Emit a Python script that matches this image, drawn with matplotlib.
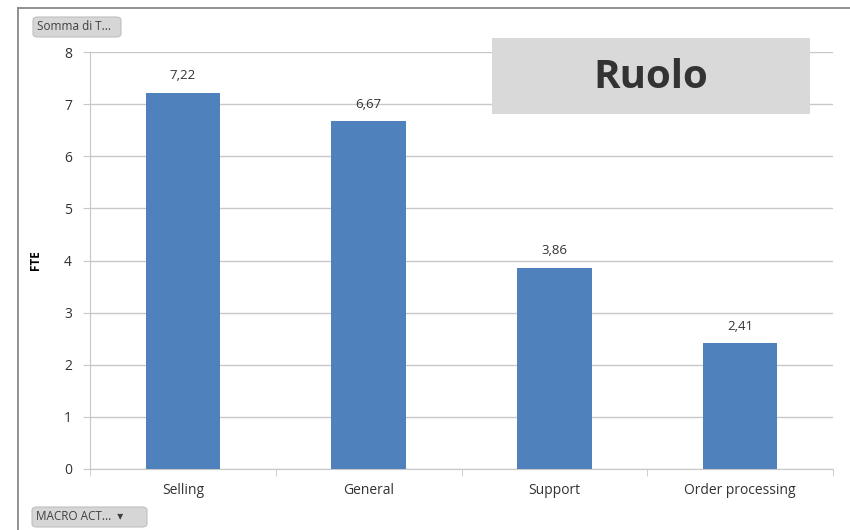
import numpy as np
import matplotlib.pyplot as plt
from matplotlib.patches import FancyBboxPatch, Rectangle
from matplotlib.lines import Line2D

plt.rcParams['font.family'] = ['Open Sans', 'DejaVu Sans']

# data
categories = ['Selling', 'General', 'Support', 'Order processing']
fte = [7.22, 6.67, 3.86, 2.41]
fte_labels = ['7,22', '6,67', '3,86', '2,41']

bar_col = '#4F81BD'
grid_col = '#C8C8C8'
text_col = '#333333'

fig = plt.figure(figsize=(8.5, 5.3), dpi=100)
ax = fig.add_axes([90/850, 1 - 469/530, (833 - 90)/850, (469 - 52)/530])

x = np.arange(len(categories))
ax.bar(x, fte, width=0.4, color=bar_col, zorder=3)
for xi, v, lab in zip(x, fte, fte_labels):
    ax.text(xi, v + 0.2, lab, ha='center', va='bottom', fontsize=9.5, color=text_col)

ax.set_xlim(-0.5, len(categories) - 0.5)
ax.set_ylim(0, 8)
ax.set_yticks(range(0, 9))
ax.yaxis.grid(True, color=grid_col, lw=1, zorder=0)
ax.set_xticks(x)
ax.set_xticklabels(categories, fontsize=10, color=text_col)
ax.set_xticks(np.arange(-0.5, len(categories)), minor=True)
ax.tick_params(axis='x', which='major', length=0, pad=10)
ax.tick_params(axis='x', which='minor', length=5, color=grid_col, direction='out')
ax.tick_params(axis='y', length=5, color=grid_col, labelsize=10, labelcolor=text_col, pad=8)
for s in ['top', 'right']:
    ax.spines[s].set_visible(False)
ax.spines['left'].set_color(grid_col)
ax.spines['bottom'].set_color(grid_col)
ax.set_ylabel('FTE', fontsize=8.5, fontweight='bold', color='black', labelpad=16)

# outer frame lines
fig.add_artist(Line2D([18/850, 18/850], [0, 1 - 8/530], transform=fig.transFigure, color='#888888', lw=1.3))
fig.add_artist(Line2D([18/850, 1], [1 - 8/530, 1 - 8/530], transform=fig.transFigure, color='#888888', lw=1.3))

# title box
fig.add_artist(Rectangle((492/850, 1 - 114/530), (810 - 492)/850, (114 - 38)/530,
                         transform=fig.transFigure, facecolor='#D9D9D9', edgecolor='none', zorder=5))
fig.text(651/850, 1 - 78/530, 'Ruolo', ha='center', va='center', fontsize=29,
         fontweight='bold', color='#333333', zorder=6)

# field buttons
def button(x0, y0, w, h, label):
    fig.add_artist(FancyBboxPatch((x0/850, 1 - (y0 + h)/530), w/850, h/530,
                                  boxstyle='round,pad=0,rounding_size=0.006',
                                  transform=fig.transFigure, facecolor='#D6D6D6',
                                  edgecolor='#C0C0C0', lw=0.8, zorder=5))
    fig.text((x0 + 4)/850, 1 - (y0 + h/2)/530, label, ha='left', va='center',
             fontsize=8.5, color='#404040', zorder=6)

button(33, 17, 88, 20, 'Somma di T...')
button(32, 507, 115, 20, 'MACRO ACT...  \u25BE')

fig.savefig('out.png', dpi=100)
